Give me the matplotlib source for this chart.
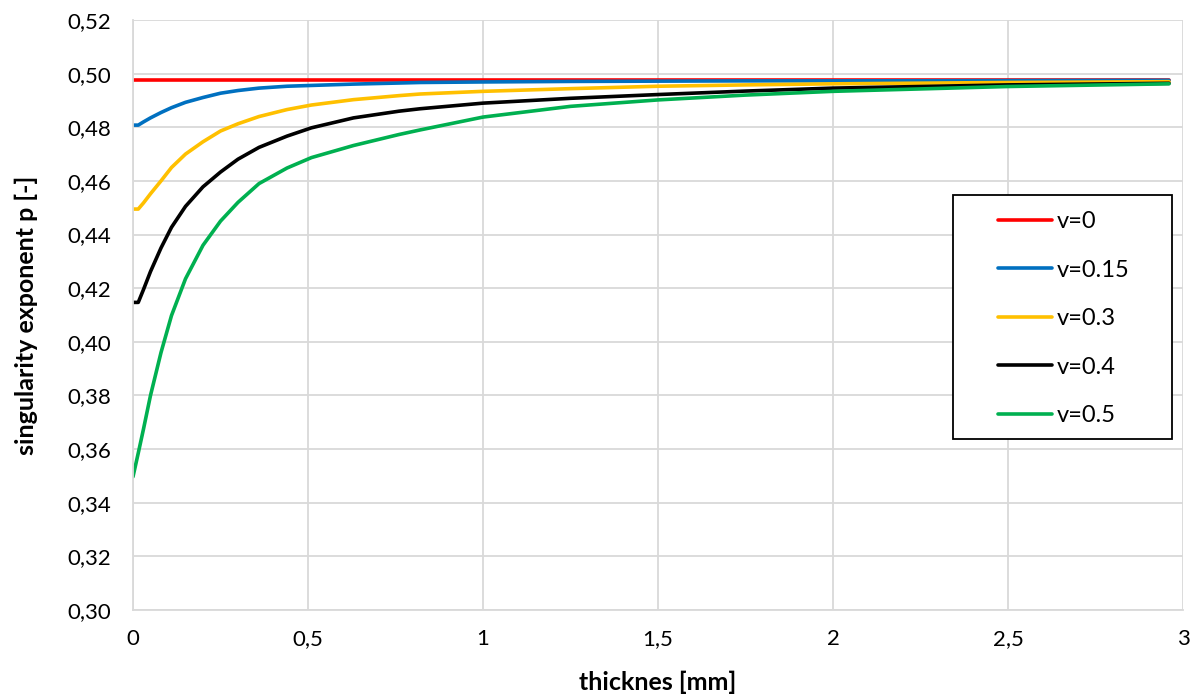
import matplotlib
matplotlib.use("Agg")
import matplotlib.pyplot as plt
from matplotlib.patches import Rectangle
from matplotlib.ticker import FixedLocator, FuncFormatter

# ---------------------------------------------------------------- data
thickness = [0, 0.015, 0.03, 0.05, 0.08, 0.11, 0.15, 0.2, 0.25, 0.3, 0.36, 0.44,
             0.51, 0.63, 0.76, 0.82, 1.0, 1.25, 1.5, 1.75, 2.0, 2.5, 2.96]

p_nu0 = [0.4975] * len(thickness)
p_nu015 = [0.4808, 0.4808, 0.4820, 0.4835, 0.4855, 0.4873, 0.4893, 0.4911, 0.4927,
           0.4937, 0.4946, 0.4953, 0.4956, 0.4961, 0.4965, 0.4967, 0.4969, 0.4971,
           0.4972, 0.4973, 0.4973, 0.4974, 0.4975]
p_nu03 = [0.4495, 0.4495, 0.4518, 0.4552, 0.4600, 0.4650, 0.4700, 0.4746, 0.4786,
          0.4813, 0.4840, 0.4866, 0.4883, 0.4903, 0.4918, 0.4924, 0.4934, 0.4944,
          0.4953, 0.4958, 0.4962, 0.4967, 0.4970]
p_nu04 = [0.4147, 0.4147, 0.4195, 0.4262, 0.4350, 0.4427, 0.4505, 0.4578, 0.4633,
          0.4681, 0.4725, 0.4767, 0.4798, 0.4835, 0.4860, 0.4869, 0.4890, 0.4908,
          0.4922, 0.4935, 0.4946, 0.4958, 0.4964]
p_nu05 = [0.3497, 0.3585, 0.3675, 0.3800, 0.3960, 0.4098, 0.4235, 0.4360, 0.4450,
          0.4520, 0.4590, 0.4648, 0.4687, 0.4732, 0.4773, 0.4790, 0.4838, 0.4878,
          0.4902, 0.4920, 0.4934, 0.4952, 0.4962]

labels = ["v=0", "v=0.15", "v=0.3", "v=0.4", "v=0.5"]
series = [p_nu0, p_nu015, p_nu03, p_nu04, p_nu05]
colors = ["#FF0000", "#0070C0", "#FFC000", "#000000", "#00B050"]

x_ticks = [0, 0.5, 1, 1.5, 2, 2.5, 3]
y_ticks = [0.30, 0.32, 0.34, 0.36, 0.38, 0.40, 0.42, 0.44, 0.46, 0.48, 0.50, 0.52]

# ---------------------------------------------------------------- plot
plt.rcParams["font.family"] = ["Lato", "DejaVu Sans"]
GRID = "#D9D9D9"
W, H = 1195, 695

fig = plt.figure(figsize=(W / 100, H / 100), dpi=100)
ax = fig.add_axes([133 / W, 1 - 610 / H, 1050 / W, 590 / H])

for y, lab, c in zip(series, labels, colors):
    ax.plot(thickness, y, color=c, lw=2.6, label=lab, solid_capstyle="round")

ax.set_xlim(0, 3)
ax.set_ylim(0.30, 0.52)
ax.xaxis.set_major_locator(FixedLocator(x_ticks))
ax.yaxis.set_major_locator(FixedLocator(y_ticks))
ax.xaxis.set_major_formatter(FuncFormatter(lambda v, _: f"{v:g}".replace(".", ",")))
ax.yaxis.set_major_formatter(FuncFormatter(lambda v, _: f"{v:.2f}".replace(".", ",")))
ax.tick_params(length=0, labelsize=16, colors="#000000")
ax.tick_params(axis="x", pad=14)
ax.tick_params(axis="y", pad=16)
ax.grid(True, color=GRID, lw=1.3)
ax.set_axisbelow(True)
for side in ["top", "right"]:
    ax.spines[side].set_visible(False)
for side in ["left", "bottom"]:
    ax.spines[side].set_color(GRID)
    ax.spines[side].set_linewidth(1.3)

# axis titles
ax.set_xlabel("thicknes [mm]", fontsize=18, fontweight="bold")
ax.set_ylabel("singularity exponent p [-]", fontsize=18, fontweight="bold")
ax.xaxis.set_label_coords(0.5, (610 - 682) / 590)
ax.yaxis.set_label_coords((26 - 133) / 1050, 0.5)
ax.xaxis.label.set_va("center")
ax.yaxis.label.set_va("center")

# legend: frame drawn separately so the wide side margins fit
frame = Rectangle((953 / W, 1 - 439 / H), 219 / W, 244 / H, transform=fig.transFigure,
                  facecolor="white", edgecolor="#000000", lw=1.3, zorder=4, clip_on=False)
ax.add_patch(frame)
leg = ax.legend(loc="upper left", bbox_to_anchor=((998 - 133) / 1050, (610 - 211) / 590),
                fontsize=17, frameon=False, handlelength=2.3, handletextpad=0.17,
                labelspacing=1.165, borderpad=0, borderaxespad=0)
leg.set_zorder(5)

fig.savefig("out.png", dpi=100)
